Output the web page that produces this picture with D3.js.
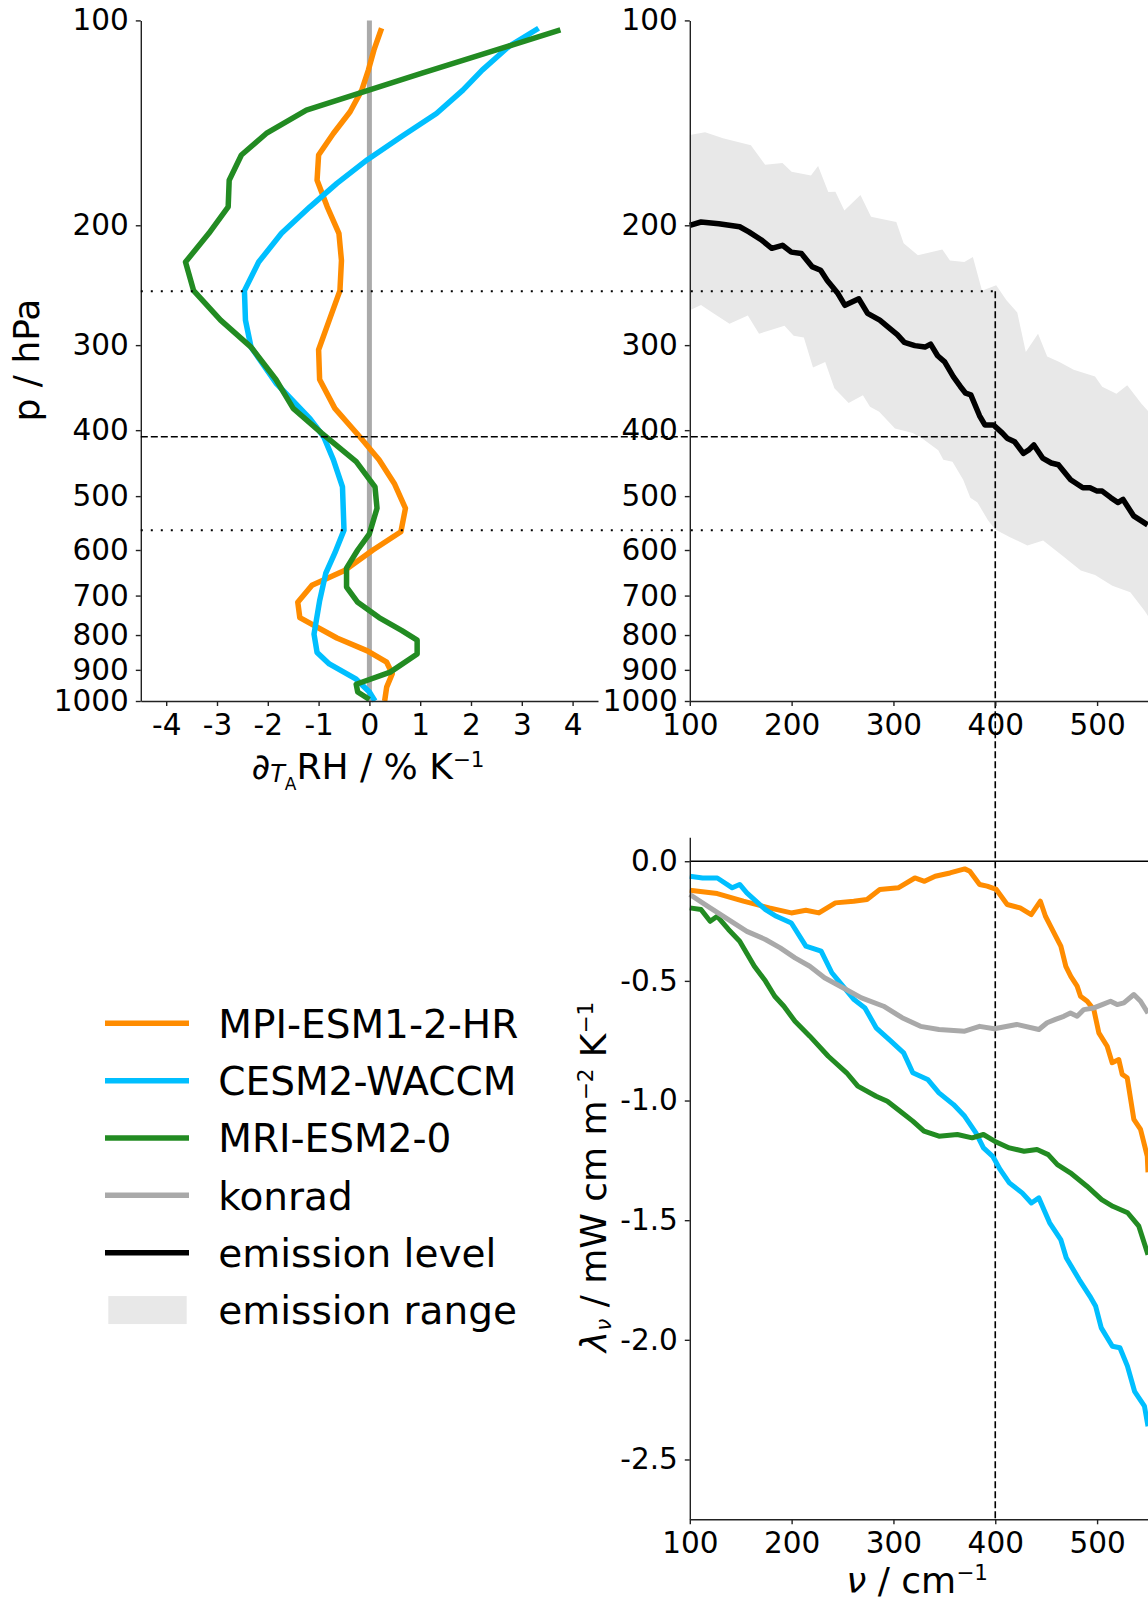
<!DOCTYPE html>
<html>
<head>
<meta charset="utf-8">
<script src="https://cdn.jsdelivr.net/npm/d3@7"></script>
<style>
  body { margin: 0; background: #fff; }
  svg { display: block; font-family: "DejaVu Sans", sans-serif; }
</style>
</head>
<body>
<svg width="1148" height="1600"></svg>
<script>
// ---- data ----
const pTicks = [100, 200, 300, 400, 500, 600, 700, 800, 900, 1000]
const rhTicks = [-4, -3, -2, -1, 0, 1, 2, 3, 4]
const nuTicks = [100, 200, 300, 400, 500]
const lamTicks = [0, -0.5, -1, -1.5, -2, -2.5]

// d_T RH profiles (pressure in hPa, value in % / K)
const mpiP = [102.7, 110.5, 118.3, 126.6, 136.2, 146.6, 157.7, 171.7, 187.9, 205.5, 225.3, 249.5, 275.7, 304.7, 337, 371.6, 409, 442, 479, 521, 564, 600, 643, 676, 716, 754, 808, 844, 877, 912, 954, 1000]
const mpiRH = [0.24, 0.09, -0.02, -0.15, -0.38, -0.71, -1.0, -1.03, -0.83, -0.6, -0.55, -0.58, -0.79, -1.0, -0.98, -0.68, -0.19, 0.19, 0.49, 0.71, 0.62, 0.07, -0.49, -1.13, -1.41, -1.37, -0.64, -0.04, 0.34, 0.45, 0.34, 0.3]
const cesmP = [102.7, 109.3, 118.3, 126.6, 137, 148, 160.2, 173.6, 187.9, 205.5, 226.5, 249.5, 275.7, 302, 341, 384.6, 409, 442, 484.6, 561, 606, 649.6, 712.6, 797.6, 848.5, 882, 929, 970, 1000]
const cesmRH = [3.33, 2.74, 2.22, 1.84, 1.32, 0.64, -0.04, -0.64, -1.17, -1.73, -2.18, -2.46, -2.44, -2.33, -1.84, -1.17, -0.9, -0.71, -0.53, -0.5, -0.68, -0.86, -0.98, -1.09, -1.03, -0.79, -0.26, 0.0, 0.11]
const mriP = [103.3, 119.6, 135.5, 146.6, 157.7, 171.7, 187.9, 205.5, 226.5, 249.5, 275.7, 302, 337, 371.6, 404, 445, 484.6, 521, 568, 600, 638, 680, 716, 754, 788, 814, 853, 907, 945, 970, 995]
const mriRH = [3.76, 1.02, -1.24, -2.03, -2.52, -2.76, -2.78, -3.16, -3.62, -3.46, -2.93, -2.33, -1.84, -1.5, -0.94, -0.26, 0.11, 0.15, 0.0, -0.23, -0.45, -0.45, -0.23, 0.19, 0.64, 0.94, 0.94, 0.41, -0.26, -0.23, 0.0]

// emission level and range (wavenumber in cm-1, pressure in hPa)
const levelNu = [100, 111, 128.5, 149, 158, 170, 180.5, 191, 199.7, 209.6, 220, 228.5, 235, 245.5, 252.4, 266, 274.6, 286.6, 296.9, 303.8, 310.7, 321, 331, 336.5, 343.4, 350.3, 358.8, 365.7, 370.9, 376, 384.6, 389.8, 398.3, 407, 411.6, 419, 427.6, 432.6, 437.9, 446.5, 455, 462, 474, 486, 493, 500, 505, 513.5, 520.4, 525.5, 535.8, 549.6]
const levelP = [200, 197.8, 199, 201, 204.5, 210, 216.2, 214, 219, 220, 230, 232.8, 241, 252, 262.2, 256.5, 269.5, 275.7, 284, 289.5, 297.2, 300.5, 302, 299, 311, 317.5, 333.7, 345, 353, 355, 381, 393, 393, 404, 411, 416, 432.6, 428, 420.6, 439.6, 447, 449.6, 473, 486, 486, 491.6, 491.6, 502.6, 511, 505.6, 534.5, 551]
const rangeTopNu = [100, 115, 132.6, 160, 174, 191, 200, 219, 226, 236, 243, 251.8, 267.6, 278, 302.8, 310, 324, 348, 355.5, 369.6, 378, 387, 400.9, 411, 421.6, 430, 442, 451, 463, 477, 498, 505, 519, 529.6, 543.6, 550]
const rangeTopP = [147.4, 146, 149, 152.5, 163, 162, 166.9, 169, 163.7, 178.7, 178.6, 190.2, 180.6, 194.3, 197.8, 212.6, 221.3, 217, 225.3, 226.5, 222.6, 249.5, 245, 257.7, 268.7, 307, 288.7, 311.8, 317.5, 326, 333.7, 345.5, 353.6, 343.7, 365.7, 375]
const rangeBotNu = [100, 111, 122, 139, 157, 168, 193, 202, 212, 221, 233, 242, 256, 270, 277, 286, 301.5, 319, 328, 344, 349, 358, 368.5, 375.5, 382.5, 393, 400, 414, 431.6, 447, 466, 484, 498, 515, 532.6, 546.6, 550]
const rangeBotP = [266.5, 262, 268.7, 279, 271.3, 288.7, 280.9, 290.6, 292.3, 323.6, 317.5, 347.2, 365, 355.4, 369.4, 376, 397.6, 404, 411, 428, 442, 445, 473, 502.6, 511, 543, 560, 574, 591, 581, 612, 643, 653, 677, 692, 737, 750]
const levelAt400 = 409
const rangeAt400 = [250, 561]

// spectral feedback (mW cm m-2 K-1)
const mpiNu = [100, 127, 152.6, 178, 199.7, 214, 226.8, 243, 261, 274, 286.6, 304.7, 321, 330.5, 341, 355.5, 370, 375, 384.6, 392, 401, 411.7, 424.4, 435.3, 444.3, 449.3, 454.4, 459.3, 464.4, 469.3, 474.2, 480.4, 483.7, 490.3, 496.8, 501.7, 509.9, 514.8, 521.3, 524.7, 529.6, 536.1, 542.7, 549.3, 550]
const mpiLam = [-0.121, -0.135, -0.167, -0.195, -0.216, -0.205, -0.216, -0.174, -0.167, -0.16, -0.118, -0.111, -0.07, -0.084, -0.063, -0.049, -0.032, -0.042, -0.097, -0.104, -0.118, -0.181, -0.195, -0.223, -0.167, -0.23, -0.272, -0.313, -0.355, -0.439, -0.481, -0.522, -0.564, -0.585, -0.62, -0.717, -0.773, -0.842, -0.829, -0.891, -0.905, -1.079, -1.121, -1.233, -1.30]
const cesmNu = [100, 112.6, 127, 141.7, 149, 156, 174.3, 185, 199.7, 214, 229, 239.5, 250.4, 261.3, 272, 283, 297.5, 310, 319, 333.6, 344.7, 359, 370, 381, 388.4, 397.5, 404.7, 413.8, 426.4, 435.5, 442.8, 453.4, 464.3, 469.7, 482.4, 493, 498.6, 504.1, 515, 522.4, 529.8, 536.8, 546.5, 550]
const cesmLam = [-0.063, -0.07, -0.07, -0.111, -0.097, -0.132, -0.202, -0.23, -0.258, -0.355, -0.376, -0.466, -0.522, -0.578, -0.613, -0.696, -0.752, -0.801, -0.884, -0.912, -0.968, -1.017, -1.066, -1.135, -1.198, -1.233, -1.288, -1.344, -1.386, -1.428, -1.407, -1.511, -1.581, -1.657, -1.748, -1.818, -1.86, -1.95, -2.027, -2.033, -2.11, -2.215, -2.277, -2.361]
const mriNu = [100, 111, 120, 127, 138, 149, 163.4, 174.3, 183.4, 192.4, 203.3, 217.8, 236, 254, 265, 283, 294, 308.5, 319, 330, 344.7, 362.8, 377.3, 388.4, 399.3, 413.8, 428.3, 441, 452, 461, 473.7, 490, 504.5, 515.4, 530, 541, 550]
const mriLam = [-0.195, -0.202, -0.251, -0.23, -0.285, -0.334, -0.439, -0.501, -0.564, -0.606, -0.669, -0.731, -0.815, -0.884, -0.94, -0.982, -1.003, -1.051, -1.086, -1.128, -1.149, -1.142, -1.156, -1.142, -1.17, -1.198, -1.212, -1.205, -1.226, -1.268, -1.302, -1.358, -1.414, -1.442, -1.469, -1.525, -1.644]
const konradNu = [100, 120, 138, 156, 174.3, 188.8, 203.3, 217.8, 232.3, 250.4, 268.6, 290.3, 308.5, 326.6, 344.7, 370, 384.6, 399, 421, 442.8, 450.9, 459.1, 467.3, 473.8, 480.4, 487, 496.8, 505, 513.2, 519.7, 526.3, 536.1, 542.7, 550]
const konradLam = [-0.139, -0.195, -0.244, -0.293, -0.327, -0.362, -0.404, -0.439, -0.487, -0.529, -0.571, -0.606, -0.654, -0.69, -0.703, -0.71, -0.69, -0.70, -0.682, -0.703, -0.675, -0.661, -0.648, -0.634, -0.648, -0.62, -0.613, -0.599, -0.585, -0.599, -0.592, -0.557, -0.585, -0.635]

const models = ['MPI-ESM1-2-HR', 'CESM2-WACCM', 'MRI-ESM2-0']
const colors = ['#ff8c00', '#00bfff', '#228b22']
const konradColor = '#a9a9a9'
const rangeColor = '#e8e8e8'

// ---- scales ----
const svg = d3.select('svg')
const tickFont = '29.5px'
const labelFont = '36px'

const yP = d3.scaleLog().domain([100, 1000]).range([20.4, 701])
const xRH = d3.scaleLinear().domain([-4.5, 4.5]).range([140.8, 598])
const xNu = d3.scaleLinear().domain([100, 550]).range([689.8, 1148])
const yLam = d3.scaleLinear().domain([-2.75, 0.1]).range([1519.3, 837.3])

const styleAxis = g => {
    g.selectAll('.domain, .tick line').attr('stroke', '#222').attr('stroke-width', 1.4)
    g.selectAll('text').attr('font-size', tickFont).attr('fill', '#000')
        .attr('font-family', '"DejaVu Sans", sans-serif')
    g.attr('font-family', null).attr('font-size', null)
}

// x axes use a slightly larger pad than y axes
const addAxis = (axis, transform, pad = 7) => svg.append('g')
    .attr('transform', transform)
    .call(axis.tickSize(5).tickSizeOuter(0).tickPadding(pad))
    .call(styleAxis)

// ---- left panel: RH change profiles ----
const left = svg.append('g')
left.append('line')
    .attr('x1', xRH(0)).attr('x2', xRH(0))
    .attr('y1', yP(100)).attr('y2', yP(1000))
    .attr('stroke', '#aaaaaa').attr('stroke-width', 5)

const profileLine = d3.line().x(d => xRH(d[1])).y(d => yP(d[0]))
const profiles = [d3.zip(mpiP, mpiRH), d3.zip(cesmP, cesmRH), d3.zip(mriP, mriRH)]
left.selectAll('path.profile').data(profiles).enter().append('path')
    .attr('class', 'profile')
    .attr('d', profileLine)
    .attr('fill', 'none')
    .attr('stroke', (_d, i) => colors[i])
    .attr('stroke-width', 5.5)
    .attr('stroke-linejoin', 'round')

addAxis(d3.axisLeft(yP).tickValues(pTicks).tickFormat(d => String(d)), `translate(${xRH.range()[0]},0)`)
addAxis(d3.axisBottom(xRH).tickValues(rhTicks).tickFormat(d => String(d)), `translate(0,${yP(1000)})`, 8)

// ---- top right panel: emission level ----
const rangePoly = d3.zip(rangeTopNu, rangeTopP)
    .concat(d3.zip(rangeBotNu, rangeBotP).reverse())
svg.append('path')
    .attr('d', d3.line().x(d => xNu(d[0])).y(d => yP(d[1]))(rangePoly) + 'Z')
    .attr('fill', rangeColor)

// guide lines linking the panels
const guides = svg.append('g').attr('stroke', '#000').attr('fill', 'none')
rangeAt400.forEach(p => {
    guides.append('line')
        .attr('x1', xRH.range()[0]).attr('x2', xNu(400))
        .attr('y1', yP(p)).attr('y2', yP(p))
        .attr('stroke-width', 2).attr('stroke-dasharray', '2,8')
})
guides.append('line')
    .attr('x1', xRH.range()[0]).attr('x2', xNu(400))
    .attr('y1', yP(levelAt400)).attr('y2', yP(levelAt400))
    .attr('stroke-width', 1.6).attr('stroke-dasharray', '7,3')
guides.append('line')
    .attr('x1', xNu(400)).attr('x2', xNu(400))
    .attr('y1', yP(rangeAt400[0])).attr('y2', yLam(-2.75))
    .attr('stroke-width', 1.6).attr('stroke-dasharray', '7,3')

svg.append('path')
    .attr('d', d3.line().x(d => xNu(d[0])).y(d => yP(d[1]))(d3.zip(levelNu, levelP)))
    .attr('fill', 'none').attr('stroke', '#000').attr('stroke-width', 5.5)
    .attr('stroke-linejoin', 'round')

addAxis(d3.axisLeft(yP).tickValues(pTicks).tickFormat(d => String(d)), `translate(${xNu(100)},0)`)
addAxis(d3.axisBottom(xNu).tickValues(nuTicks).tickFormat(d => String(d)), `translate(0,${yP(1000)})`, 8)

// ---- bottom right panel: spectral feedback ----
svg.append('line')
    .attr('x1', xNu(100)).attr('x2', xNu(550))
    .attr('y1', yLam(0)).attr('y2', yLam(0))
    .attr('stroke', '#000').attr('stroke-width', 1.5)

const spectra = [
    { nu: mpiNu, lam: mpiLam, color: colors[0] },
    { nu: cesmNu, lam: cesmLam, color: colors[1] },
    { nu: mriNu, lam: mriLam, color: colors[2] },
    { nu: konradNu, lam: konradLam, color: konradColor }
]
const specLine = d3.line().x(d => xNu(d[0])).y(d => yLam(d[1]))
svg.selectAll('path.spec').data(spectra).enter().append('path')
    .attr('class', 'spec')
    .attr('d', d => specLine(d3.zip(d.nu, d.lam)))
    .attr('fill', 'none')
    .attr('stroke', d => d.color)
    .attr('stroke-width', 5)
    .attr('stroke-linejoin', 'round')

addAxis(d3.axisLeft(yLam).tickValues(lamTicks).tickFormat(d => d.toFixed(1)), `translate(${xNu(100)},0)`)
addAxis(d3.axisBottom(xNu).tickValues(nuTicks).tickFormat(d => String(d)), `translate(0,${yLam(-2.75)})`, 8)

// ---- axis labels ----
svg.append('text')
    .attr('transform', 'translate(38.5,360) rotate(-90)')
    .attr('text-anchor', 'middle').attr('font-size', labelFont)
    .text('p / hPa')

const rhLabel = svg.append('text')
    .attr('x', 368).attr('y', 779.3)
    .attr('text-anchor', 'middle').attr('font-size', labelFont)
rhLabel.append('tspan').text('∂')
rhLabel.append('tspan').attr('font-size', '24px').attr('font-style', 'italic').attr('dy', 3).text('T')
rhLabel.append('tspan').attr('font-size', '17px').attr('dy', 8).text('A')
rhLabel.append('tspan').attr('dy', -11).text('RH / % K')
rhLabel.append('tspan').attr('font-size', '21.5px').attr('dy', -12.6).text('−1')

const nuLabel = svg.append('text')
    .attr('x', 917).attr('y', 1593)
    .attr('text-anchor', 'middle').attr('font-size', labelFont)
nuLabel.append('tspan').attr('font-style', 'italic').text('ν')
nuLabel.append('tspan').text(' / cm')
nuLabel.append('tspan').attr('font-size', '21.5px').attr('dy', -12.6).text('−1')

const lamLabel = svg.append('text')
    .attr('transform', 'translate(606,1177) rotate(-90)')
    .attr('text-anchor', 'middle').attr('font-size', labelFont)
lamLabel.append('tspan').attr('font-style', 'italic').text('λ')
lamLabel.append('tspan').attr('font-style', 'italic').attr('font-size', '21.5px').attr('dy', 5).text('ν')
lamLabel.append('tspan').attr('dy', -5).text(' / mW cm m')
lamLabel.append('tspan').attr('font-size', '21.5px').attr('dy', -12.6).text('−2')
lamLabel.append('tspan').attr('dy', 12.6).text(' K')
lamLabel.append('tspan').attr('font-size', '21.5px').attr('dy', -12.6).text('−1')

// ---- legend ----
const legendItems = [
    { label: models[0], color: colors[0] },
    { label: models[1], color: colors[1] },
    { label: models[2], color: colors[2] },
    { label: 'konrad', color: konradColor },
    { label: 'emission level', color: '#000' },
    { label: 'emission range', color: rangeColor, patch: true }
]
const legend = svg.append('g').attr('transform', 'translate(0,1023.3)')
const item = legend.selectAll('g').data(legendItems).enter().append('g')
    .attr('transform', (_d, i) => `translate(0,${i * 57.35})`)
item.filter(d => !d.patch).append('line')
    .attr('x1', 105).attr('x2', 189)
    .attr('stroke', d => d.color).attr('stroke-width', 5.5)
item.filter(d => d.patch).append('rect')
    .attr('x', 108.3).attr('y', -14).attr('width', 78.4).attr('height', 28)
    .attr('fill', d => d.color)
item.append('text')
    .attr('x', 218.3).attr('y', 14.3)
    .attr('font-size', '39px')
    .text(d => d.label)
</script>
</body>
</html>
